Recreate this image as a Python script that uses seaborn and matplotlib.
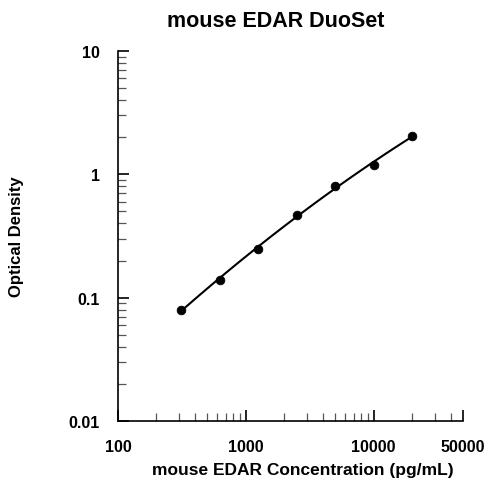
import numpy as np
import pandas as pd
import matplotlib
matplotlib.use("Agg")
import matplotlib.pyplot as plt
import matplotlib.ticker as mticker
import seaborn as sns

# Standard curve readings
conc = [312.5, 625, 1250, 2500, 5000, 10000, 20000]
od = [0.080, 0.140, 0.250, 0.467, 0.81, 1.20, 2.04]
x_ticks = [100, 1000, 10000, 50000]
x_tick_labels = ["100", "1000", "10000", "50000"]
y_ticks = [0.01, 0.1, 1, 10]
y_tick_labels = ["0.01", "0.1", "1", "10"]

df = pd.DataFrame({"conc": conc, "od": od})

# fitted curve (quadratic in log-log space)
coef = np.polyfit(np.log10(df["conc"]), np.log10(df["od"]), 2)
xs = np.logspace(np.log10(min(conc)), np.log10(max(conc)), 100)
fit = pd.DataFrame({"conc": xs, "od": 10 ** np.polyval(coef, np.log10(xs))})

sns.set_style("ticks", {"axes.edgecolor": "black", "text.color": "black",
                        "axes.labelcolor": "black", "xtick.color": "black",
                        "ytick.color": "black"})
plt.rcParams["font.family"] = ["Liberation Sans", "DejaVu Sans"]
plt.rcParams["font.weight"] = "bold"

fig = plt.figure(figsize=(4.87, 4.81), dpi=100)
ax = fig.add_axes([0.2423, 0.1227, 0.7084, 0.7692])

sns.lineplot(data=fit, x="conc", y="od", color="black", linewidth=1.5, ax=ax)
sns.scatterplot(data=df, x="conc", y="od", color="black", s=40, edgecolor="black", zorder=3, ax=ax)

ax.set_xscale("log")
ax.set_yscale("log")
ax.set_xlim(100, 50000)
ax.set_ylim(0.01, 10)

ax.xaxis.set_major_locator(mticker.FixedLocator(x_ticks))
ax.xaxis.set_major_formatter(mticker.FixedFormatter(x_tick_labels))
ax.xaxis.set_minor_locator(mticker.LogLocator(base=10, subs=np.arange(2, 10)))
ax.xaxis.set_minor_formatter(mticker.NullFormatter())
ax.yaxis.set_major_locator(mticker.FixedLocator(y_ticks))
ax.yaxis.set_major_formatter(mticker.FixedFormatter(y_tick_labels))
ax.yaxis.set_minor_locator(mticker.LogLocator(base=10, subs=np.arange(2, 10)))
ax.yaxis.set_minor_formatter(mticker.NullFormatter())

ax.tick_params(which="major", direction="in", length=8, width=1.2, pad=13,
               labelsize=11.5, color="black", labelcolor="black")
ax.tick_params(which="minor", direction="in", length=5.5, width=0.9, color="#555555")

sns.despine(ax=ax)
ax.spines["left"].set_linewidth(1.2)
ax.spines["bottom"].set_linewidth(1.2)

fig.text(0.567, 0.956, "mouse EDAR DuoSet", fontsize=15.5, fontweight="bold",
         ha="center", va="center")
ax.set_xlabel("")
fig.text(302.5 / 487, 1 - 471 / 481, "mouse EDAR Concentration (pg/mL)",
         fontsize=12.5, fontweight="bold", ha="center", va="center")
ax.set_ylabel("Optical Density", fontsize=12, fontweight="bold", labelpad=32)

fig.savefig("out.png", dpi=100)
